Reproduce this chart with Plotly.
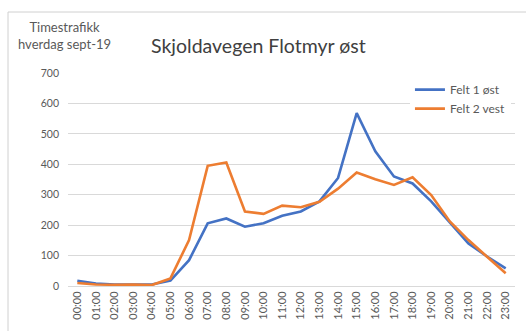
import plotly.graph_objects as go

hours = [f"{h:02d}:00" for h in range(24)]
felt1_ost = [17, 8, 5, 5, 5, 18, 85, 206, 222, 195, 206, 231, 245, 278, 355, 568,
             443, 360, 337, 278, 208, 140, 97, 58]
felt2_vest = [10, 5, 4, 5, 3, 25, 151, 395, 406, 245, 237, 264, 259, 277, 320, 373,
              351, 332, 357, 299, 212, 151, 96, 42]
y_ticks = [0, 100, 200, 300, 400, 500, 600, 700]

FONT = "Lato, Open Sans, sans-serif"
TEXT = "#595959"

fig = go.Figure()
fig.add_trace(go.Scatter(x=hours, y=felt1_ost, mode="lines", name="Felt 1 øst",
                         line=dict(color="#4472C4", width=2.6)))
fig.add_trace(go.Scatter(x=hours, y=felt2_vest, mode="lines", name="Felt 2 vest",
                         line=dict(color="#ED7D31", width=2.6)))

fig.update_layout(
    width=526, height=331,
    margin=dict(l=68, r=11, t=73, b=45),
    paper_bgcolor="white", plot_bgcolor="white",
    font=dict(family=FONT, color=TEXT, size=10),
    showlegend=True,
    legend=dict(x=0.765, y=0.99, xanchor="left", yanchor="top",
                bgcolor="white", font=dict(size=12, color=TEXT),
                itemwidth=30, tracegroupgap=0),
    xaxis=dict(type="category", range=[-0.5, 23.5], tickangle=-90,
               showgrid=False, showline=True, linecolor="#d9d9d9", linewidth=1,
               ticks="", tickfont=dict(size=11, color=TEXT), fixedrange=True),
    yaxis=dict(range=[0, 700], tickvals=y_ticks, showgrid=True,
               gridcolor="#d9d9d9", gridwidth=1, zeroline=False, showline=False,
               ticks="", ticklabelstandoff=8, tickfont=dict(size=10.5, color=TEXT),
               fixedrange=True),
)

# chart frame
fig.add_shape(type="rect", xref="paper", yref="paper",
              x0=(8 - 68) / 447, x1=(540 - 68) / 447,
              y0=-0.4, y1=1 + (73 - 12) / 213,
              line=dict(color="#d0d0d0", width=1), fillcolor="rgba(0,0,0,0)",
              layer="below")

fig.add_annotation(text="Skjoldavegen Flotmyr øst", xref="paper", yref="paper",
                   x=(149 - 68) / 447, y=1 + (73 - 46) / 213, xanchor="left",
                   yanchor="middle", showarrow=False,
                   font=dict(size=19.5, color="#404040", family=FONT))
fig.add_annotation(text="Timestrafikk<br>hverdag sept-19", xref="paper", yref="paper",
                   x=(64 - 68) / 447, y=1 + (73 - 35) / 213, xanchor="center",
                   yanchor="middle", showarrow=False, align="center",
                   font=dict(size=13, color=TEXT, family=FONT))

fig.write_html("out.html")
